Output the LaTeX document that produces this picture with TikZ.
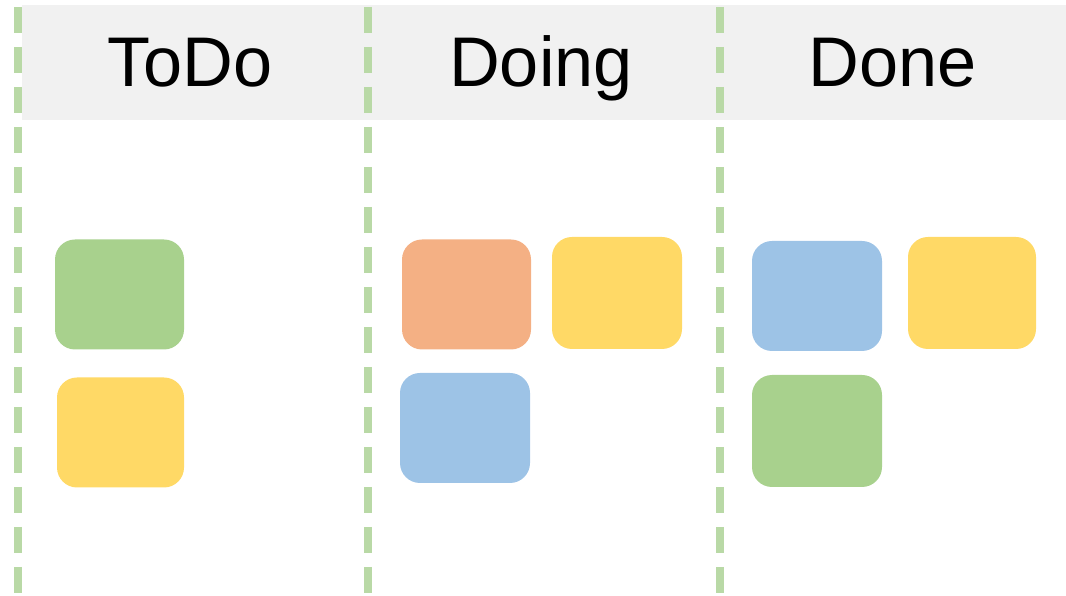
\documentclass[tikz,border=0pt]{standalone}
\usepackage{fontspec}
\setmainfont{Liberation Sans}
\usepackage{tikz}
\usepackage{xcolor}

\definecolor{cabecalho}{HTML}{F1F1F1}
\definecolor{divisoria}{HTML}{B9D9A6}
\definecolor{verde}{HTML}{A8D18D}
\definecolor{amarelo}{HTML}{FFD966}
\definecolor{laranja}{HTML}{F4B084}
\definecolor{azul}{HTML}{9DC3E6}

\tikzset{
  cartao/.style={rectangle, rounded corners=0.2cm, inner sep=0pt,
    minimum width=1.29cm, minimum height=1.1cm},
  titulo/.style={anchor=base, font=\fontsize{20}{24}\selectfont}
}

\begin{document}
\begin{tikzpicture}
        \useasboundingbox (0,0) rectangle (10.66,5.95);
        % Cabecalho
        \fill[cabecalho] (0.22,5.90) rectangle (10.66,4.75);
        \node[titulo] (todo) at (1.90,5.08) {ToDo};
        \node[titulo] (doing) at (5.41,5.08) {Doing};
        \node[titulo] (done) at (8.93,5.08) {Done};
        % Divisorias
        \foreach \x in {0.175, 3.675, 7.195}
            \draw[divisoria, line width=0.08cm, dash pattern=on 0.26cm off 0.14cm]
                (\x,5.88) -- (\x,0);
        % Cartoes
        \node[cartao, fill=verde] (todoA) at (1.195,3.005) {};
        \node[cartao, fill=amarelo, minimum width=1.27cm] (todoB) at (1.205,1.625) {};
        \node[cartao, fill=laranja] (doingA) at (4.665,3.005) {};
        \node[cartao, fill=amarelo, minimum width=1.30cm, minimum height=1.12cm] (doingB) at (6.17,3.02) {};
        \node[cartao, fill=azul, minimum width=1.30cm] (doingC) at (4.65,1.67) {};
        \node[cartao, fill=azul, minimum width=1.30cm] (doneA) at (8.17,2.99) {};
        \node[cartao, fill=amarelo, minimum width=1.28cm, minimum height=1.12cm] (doneB) at (9.72,3.02) {};
        \node[cartao, fill=verde, minimum width=1.30cm, minimum height=1.12cm] (doneC) at (8.17,1.64) {};
    \end{tikzpicture}
\end{document}
